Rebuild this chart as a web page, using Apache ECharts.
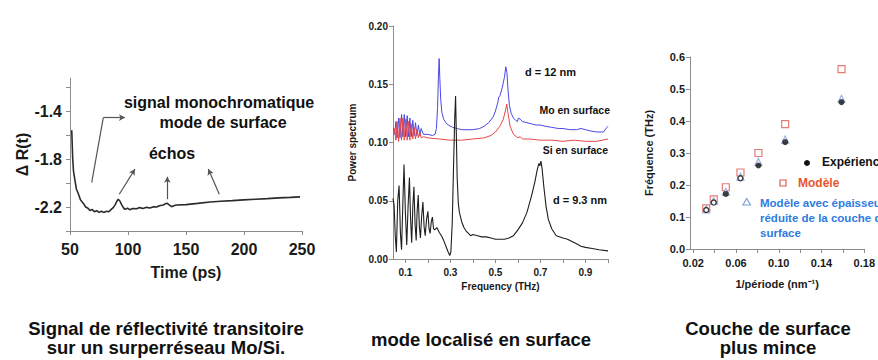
<!DOCTYPE html>
<html>
<head>
<meta charset="utf-8">
<script src="https://cdn.jsdelivr.net/npm/echarts@6/dist/echarts.min.js"></script>
<style>
  html, body { margin: 0; padding: 0; background: #fff; }
  #chart { width: 878px; height: 360px; }
</style>
</head>
<body>
<div id="chart"></div>
<script>
// panel 1 : transient reflectivity, time (ps) vs delta R
var p1Time = [51.5, 52.3, 53, 54.3, 55.5, 57.2, 59, 61.5, 63.5, 65.5, 67.2, 69, 71, 73, 75, 77, 79, 81.6, 83.5, 85.5,
  87.3, 89, 90.5, 91.6, 93, 94.5, 96, 97.4, 99.5, 101.5, 104, 107.5, 110, 113, 116, 119, 122, 124.7, 127, 130.5,
  132.5, 133.9, 135.5, 137.6, 140, 142, 150, 160, 170.7, 180, 190, 199.4, 210, 220, 230, 240, 248.3];
var p1Signal = [-1.56, -1.79, -1.90, -1.98, -2.05, -2.09, -2.14, -2.17, -2.20, -2.21, -2.23, -2.22, -2.24, -2.23, -2.245, -2.235, -2.245, -2.235, -2.24, -2.22,
  -2.205, -2.18, -2.15, -2.136, -2.15, -2.18, -2.205, -2.22, -2.21, -2.222, -2.212, -2.215, -2.205, -2.212, -2.203, -2.208, -2.198, -2.2, -2.19, -2.183,
  -2.172, -2.169, -2.182, -2.197, -2.188, -2.183, -2.18, -2.17, -2.158, -2.152, -2.147, -2.141, -2.135, -2.13, -2.124, -2.12, -2.116];
var p1TickValues = [-2.4, -2.2, -2.0, -1.8, -1.6, -1.4, -1.2];
var p1LabelValues = [-2.2, -1.8, -1.4];

// panel 2 : power spectra [THz, power]
var moSpectrum = [[0.047,0.112],[0.052,0.107],[0.058,0.118],[0.063,0.104],[0.07,0.121],[0.076,0.104],[0.083,0.124],[0.089,0.105],
  [0.095,0.124],[0.101,0.105],[0.108,0.123],[0.114,0.105],[0.12,0.121],[0.126,0.105],[0.133,0.119],[0.139,0.106],[0.145,0.117],
  [0.151,0.106],[0.158,0.115],[0.164,0.106],[0.17,0.112],[0.18,0.107],[0.2,0.107],[0.22,0.106],[0.232,0.107],[0.238,0.112],
  [0.243,0.13],[0.247,0.158],[0.25,0.172],[0.253,0.155],[0.257,0.137],[0.262,0.126],[0.27,0.12],[0.28,0.117],[0.29,0.115],
  [0.31,0.113],[0.33,0.112],[0.35,0.111],[0.37,0.111],[0.4,0.111],[0.43,0.112],[0.45,0.114],[0.47,0.117],[0.49,0.122],
  [0.5,0.127],[0.51,0.134],[0.515,0.139],[0.52,0.14],[0.53,0.147],[0.54,0.156],[0.546,0.165],[0.551,0.16],[0.556,0.145],
  [0.562,0.132],[0.57,0.125],[0.58,0.121],[0.59,0.119],[0.598,0.118],[0.602,0.121],[0.61,0.12],[0.62,0.118],[0.64,0.117],
  [0.66,0.116],[0.68,0.115],[0.7,0.115],[0.72,0.114],[0.75,0.113],[0.78,0.112],[0.8,0.112],[0.83,0.111],[0.86,0.111],
  [0.88,0.112],[0.9,0.111],[0.92,0.11],[0.95,0.109],[0.98,0.109],[0.995,0.113],[1.0,0.114]];
var siSpectrum = [[0.047,0.106],[0.052,0.112],[0.058,0.102],[0.063,0.118],[0.07,0.101],[0.076,0.121],[0.083,0.102],[0.089,0.121],
  [0.095,0.102],[0.101,0.12],[0.108,0.102],[0.114,0.118],[0.12,0.102],[0.126,0.116],[0.133,0.103],[0.139,0.113],[0.145,0.103],
  [0.151,0.111],[0.158,0.104],[0.164,0.109],[0.17,0.104],[0.18,0.105],[0.2,0.104],[0.25,0.103],[0.3,0.102],[0.35,0.102],
  [0.4,0.103],[0.45,0.104],[0.48,0.106],[0.5,0.109],[0.52,0.114],[0.535,0.12],[0.545,0.128],[0.55,0.133],[0.556,0.125],
  [0.565,0.114],[0.58,0.107],[0.6,0.104],[0.61,0.105],[0.62,0.103],[0.65,0.103],[0.7,0.102],[0.75,0.102],[0.8,0.101],
  [0.85,0.102],[0.9,0.101],[0.95,0.101],[1.0,0.103]];
var thinSpectrum = [[0.045,0.052],[0.05,0.046],[0.055,0.02],[0.06,0.006],[0.066,0.05],[0.072,0.063],[0.078,0.022],[0.083,0.008],
  [0.089,0.05],[0.094,0.081],[0.1,0.04],[0.106,0.012],[0.112,0.045],[0.118,0.07],[0.123,0.035],[0.128,0.014],[0.133,0.045],
  [0.138,0.062],[0.143,0.03],[0.148,0.016],[0.152,0.04],[0.157,0.055],[0.162,0.028],[0.167,0.018],[0.172,0.036],[0.178,0.049],
  [0.183,0.028],[0.188,0.02],[0.194,0.034],[0.2,0.041],[0.205,0.026],[0.21,0.022],[0.215,0.032],[0.22,0.036],[0.225,0.026],
  [0.23,0.025],[0.24,0.027],[0.25,0.023],[0.26,0.02],[0.27,0.016],[0.28,0.011],[0.29,0.006],[0.297,0.003],[0.302,0.006],
  [0.308,0.03],[0.314,0.08],[0.319,0.12],[0.323,0.14],[0.326,0.11],[0.33,0.07],[0.335,0.048],[0.34,0.04],[0.35,0.032],
  [0.36,0.027],[0.37,0.024],[0.38,0.022],[0.39,0.02],[0.4,0.021],[0.42,0.02],[0.44,0.019],[0.46,0.019],[0.48,0.018],
  [0.5,0.017],[0.52,0.017],[0.54,0.017],[0.56,0.018],[0.58,0.02],[0.6,0.025],[0.62,0.031],[0.64,0.04],[0.66,0.054],
  [0.675,0.066],[0.685,0.076],[0.693,0.082],[0.697,0.08],[0.702,0.084],[0.707,0.078],[0.715,0.062],[0.725,0.045],
  [0.735,0.034],[0.75,0.026],[0.77,0.02],[0.8,0.018],[0.82,0.017],[0.84,0.015],[0.86,0.013],[0.88,0.011],[0.9,0.01],
  [0.93,0.009],[0.96,0.008],[1.0,0.007]];
var p2TickValues = [0.1, 0.2, 0.3, 0.4, 0.5, 0.6, 0.7, 0.8, 0.9, 1.0];
var p2LabelValues = [0.1, 0.3, 0.5, 0.7, 0.9];

// panel 3 : frequency vs 1/period
var invPeriod = [0.0322, 0.0392, 0.0505, 0.0642, 0.081, 0.106, 0.1587];
var freqExp = [0.122, 0.145, 0.172, 0.221, 0.261, 0.334, 0.459];
var freqModel = [0.127, 0.155, 0.193, 0.239, 0.300, 0.390, 0.562];
var freqThin = [0.124, 0.150, 0.179, 0.226, 0.272, 0.342, 0.469];
var p3TickValues = [0.02, 0.04, 0.06, 0.08, 0.10, 0.12, 0.14, 0.16, 0.18];
var p3LabelValues = [0.02, 0.06, 0.10, 0.14, 0.18];

var FONT = '"Liberation Sans", Arial, sans-serif';
var NARROW = '"Liberation Sans Narrow", "Arial Narrow", "Liberation Sans", sans-serif';
var AXIS_GRAY = '#8c8c8c';

function zip(xs, ys) {
  return xs.map(function (x, i) { return [x, ys[i]]; });
}

function axisLook(fontSize, ticks, labels, digits) {
  return {
    axisLine: { show: true, onZero: false, lineStyle: { color: AXIS_GRAY, width: 1 } },
    axisTick: { show: true, length: 4, lineStyle: { color: AXIS_GRAY }, customValues: ticks },
    axisLabel: {
      customValues: labels, color: '#1a1a1a', fontFamily: FONT, fontWeight: 'bold', fontSize: fontSize,
      formatter: function (v) { return digits == null ? String(v) : Number(v).toFixed(digits); }
    },
    splitLine: { show: false },
    nameTextStyle: { color: '#1a1a1a', fontFamily: FONT, fontWeight: 'bold', fontSize: fontSize }
  };
}

function text(x, y, str, size, color, align, font) {
  return {
    type: 'text', x: x, y: y, silent: true,
    style: {
      text: str, fill: color || '#111', fontFamily: font || FONT, fontWeight: 'bold', fontSize: size,
      align: align || 'left', verticalAlign: 'middle'
    }
  };
}

// arrows of panel 1, in data coords
var arrowSegments = [
  [[68.7, -1.996], [78.7, -1.455], false],
  [[78.7, -1.455], [97.4, -1.455], true],
  [[92.5, -2.094], [106, -1.884], true],
  [[133.9, -2.135], [133.9, -1.948], true],
  [[178.7, -2.094], [169.2, -1.884], true]
];

var chart = echarts.init(document.getElementById('chart'), null, { renderer: 'svg' });

var x1 = axisLook(16, [50, 100, 150, 200, 250], [50, 100, 150, 200, 250], null);
var y1 = axisLook(16, p1TickValues, p1LabelValues, 1);
var x2 = axisLook(10, p2TickValues, p2LabelValues, 1);
var y2 = axisLook(10, [0, 0.05, 0.1, 0.15, 0.2], [0, 0.05, 0.1, 0.15, 0.2], 2);
var x3 = axisLook(11, p3TickValues, p3LabelValues, 2);
var y3 = axisLook(11, [0, 0.1, 0.2, 0.3, 0.4, 0.5, 0.6], [0, 0.1, 0.2, 0.3, 0.4, 0.5, 0.6], 1);

var hollowExp = [0, 1, 3];
var expFilled = [], expOpen = [];
invPeriod.forEach(function (x, i) {
  (hollowExp.indexOf(i) >= 0 ? expOpen : expFilled).push([x, freqExp[i]]);
});

chart.setOption({
  animation: false,
  backgroundColor: '#fff',
  grid: [
    { left: 70, top: 78, width: 232, height: 153 },
    { left: 393, top: 26, width: 215, height: 233 },
    { left: 690, top: 57, width: 178, height: 192 }
  ],
  xAxis: [
    Object.assign({ gridIndex: 0, type: 'value', min: 50, max: 250, name: 'Time (ps)', nameLocation: 'middle', nameGap: 33 }, x1,
      { axisLabel: Object.assign({}, x1.axisLabel, { margin: 10 }) }),
    Object.assign({ gridIndex: 1, type: 'value', min: 0.045, max: 1.0, name: 'Frequency (THz)', nameLocation: 'middle', nameGap: 21 }, x2,
      { axisLabel: Object.assign({}, x2.axisLabel, { margin: 8 }) }),
    Object.assign({ gridIndex: 2, type: 'value', min: 0.017, max: 0.18, name: '1/période (nm⁻¹)', nameLocation: 'middle', nameGap: 29 }, x3,
      { axisLabel: Object.assign({}, x3.axisLabel, { margin: 8 }) })
  ],
  yAxis: [
    Object.assign({ gridIndex: 0, type: 'value', min: -2.4, max: -1.125, name: 'Δ R(t)', nameLocation: 'middle', nameGap: 40 }, y1,
      { axisLabel: Object.assign({}, y1.axisLabel, { margin: 8 }) }),
    Object.assign({ gridIndex: 1, type: 'value', min: 0, max: 0.2, name: 'Power spectrum', nameLocation: 'middle', nameGap: 36 }, y2,
      { axisLabel: Object.assign({}, y2.axisLabel, { margin: 5 }) }),
    Object.assign({ gridIndex: 2, type: 'value', min: 0, max: 0.6, name: 'Fréquence (THz)', nameLocation: 'middle', nameGap: 36 }, y3,
      { axisLabel: Object.assign({}, y3.axisLabel, { margin: 5 }) })
  ],
  series: [
    {
      name: 'signal', type: 'line', xAxisIndex: 0, yAxisIndex: 0, data: zip(p1Time, p1Signal),
      showSymbol: false, lineStyle: { color: '#2b2b2b', width: 1.6 }, silent: true,
      markLine: {
        silent: true, animation: false, symbol: ['none', 'triangle'], symbolSize: [5, 6],
        lineStyle: { color: '#555', width: 1.2, type: 'solid' }, label: { show: false }, emphasis: { disabled: true },
        data: arrowSegments.map(function (s) {
          return [{ coord: s[0], symbol: 'none' }, { coord: s[1], symbol: s[2] ? 'arrow' : 'none' }];
        })
      }
    },
    { name: 'Mo en surface', type: 'line', xAxisIndex: 1, yAxisIndex: 1, data: moSpectrum, showSymbol: false,
      lineStyle: { color: '#4848e6', width: 1 }, silent: true },
    { name: 'Si en surface', type: 'line', xAxisIndex: 1, yAxisIndex: 1, data: siSpectrum, showSymbol: false,
      lineStyle: { color: '#e64848', width: 1 }, silent: true },
    { name: 'd = 9.3 nm', type: 'line', xAxisIndex: 1, yAxisIndex: 1, data: thinSpectrum, showSymbol: false,
      lineStyle: { color: '#1e1e1e', width: 1.1 }, silent: true },
    { name: 'Modèle', type: 'scatter', xAxisIndex: 2, yAxisIndex: 2, data: zip(invPeriod, freqModel),
      symbol: 'rect', symbolSize: 7, itemStyle: { color: '#fff', borderColor: '#e05a50', borderWidth: 1.2 }, silent: true },
    { name: 'Modèle avec épaisseur réduite', type: 'scatter', xAxisIndex: 2, yAxisIndex: 2, data: zip(invPeriod, freqThin),
      symbol: 'triangle', symbolSize: 7, itemStyle: { color: '#fff', borderColor: '#7fa0dc', borderWidth: 1.2 }, silent: true },
    { name: 'Expérience', type: 'scatter', xAxisIndex: 2, yAxisIndex: 2, data: expFilled,
      symbol: 'circle', symbolSize: 6, itemStyle: { color: '#111' }, silent: true },
    { name: 'Expérience (o)', type: 'scatter', xAxisIndex: 2, yAxisIndex: 2, data: expOpen,
      symbol: 'circle', symbolSize: 5, itemStyle: { color: '#fff', borderColor: '#111', borderWidth: 1.4 }, silent: true }
  ],
  graphic: [
    // panel 1 annotations
    text(219, 102, 'signal monochromatique', 16, '#111', 'center'),
    text(223, 122, 'mode de surface', 16, '#111', 'center'),
    text(172, 153, 'échos', 16, '#111', 'center'),
    // panel 2 annotations
    text(525, 72, 'd = 12 nm', 11),
    text(610, 110, 'Mo en surface', 10.5, '#111', 'right'),
    text(608, 150, 'Si en surface', 10.5, '#111', 'right'),
    text(607, 200, 'd = 9.3 nm', 11, '#111', 'right'),
    // panel 3 legend (runs off the right edge, like the original)
    { type: 'circle', silent: true, shape: { cx: 807, cy: 163, r: 3 }, style: { fill: '#111' } },
    text(822, 162, 'Expérience', 12),
    { type: 'rect', silent: true, shape: { x: 780, y: 180, width: 6, height: 6 }, style: { fill: '#fff', stroke: '#e05a50', lineWidth: 1.2 } },
    text(798, 183, 'Modèle', 12, '#e8562e'),
    { type: 'polygon', silent: true, shape: { points: [[746.7, 198.5], [750.5, 205], [743, 205]] }, style: { fill: '#fff', stroke: '#7fa0dc', lineWidth: 1.2 } },
    text(760, 203, 'Modèle avec épaisseur', 11.5, '#2e7be0'),
    text(760, 218, 'réduite de la couche de', 11.5, '#2e7be0'),
    text(760, 232.5, 'surface', 11.5, '#2e7be0'),
    // captions
    text(166, 328, 'Signal de réflectivité transitoire', 18.5, '#111', 'center', NARROW),
    text(166, 347, 'sur un surperréseau Mo/Si.', 18.5, '#111', 'center', NARROW),
    text(481, 339, 'mode localisé en surface', 18.5, '#111', 'center', NARROW),
    text(768, 328, 'Couche de surface', 18.5, '#111', 'center', NARROW),
    text(768, 347, 'plus mince', 18.5, '#111', 'center', NARROW)
  ]
});
</script>
</body>
</html>
